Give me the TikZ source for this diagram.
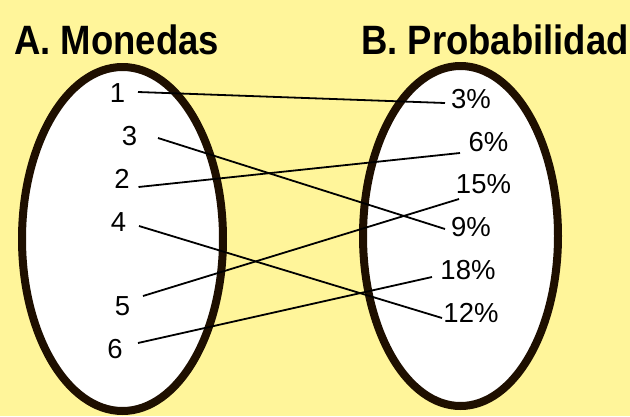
\documentclass[tikz,border=0pt]{standalone}
\usepackage{fontspec}
\usetikzlibrary{shapes.geometric}
\setmainfont{Liberation Sans}
\newfontfamily\titlefont[FakeStretch=0.89]{Liberation Sans Bold}
\definecolor{bgyellow}{HTML}{FFF59A}
\definecolor{rimbrown}{HTML}{1E0F00}
\tikzset{
  setoval/.style={draw=rimbrown, line width=8pt, fill=white, ellipse, inner sep=0pt},
  titlelbl/.style={inner sep=0pt, anchor=base west, font=\titlefont\fontsize{41}{41}\selectfont},
  itemlbl/.style={inner sep=0pt, font=\fontsize{27.5}{28}\selectfont},
  link/.style={draw=black, line width=1.8pt}
}
\begin{document}
\begin{tikzpicture}[x=1pt, y=-1pt]
\fill[bgyellow] (0,0) rectangle (630,416);
\useasboundingbox (0,0) rectangle (630,416);
% titles
\node[titlelbl] (ta) at (14,54) {A. Monedas};
\node[titlelbl] (tb) at (361,54) {B. Probabilidad};
% ovals
\node[setoval, minimum width=201pt, minimum height=344pt] (ea) at (122.5,239) {};
\node[setoval, minimum width=195pt, minimum height=340pt] (eb) at (460.5,236) {};
% left labels
\node[itemlbl] (n1) at (117.5,93) {1};
\node[itemlbl] (n3) at (129.5,136.5) {3};
\node[itemlbl] (n2) at (122,178.5) {2};
\node[itemlbl] (n4) at (118.5,222) {4};
\node[itemlbl] (n5) at (122.5,306) {5};
\node[itemlbl] (n6) at (115,349) {6};
% right labels
\node[itemlbl] (p3) at (471,99) {3\%};
\node[itemlbl] (p6) at (488.5,142.5) {6\%};
\node[itemlbl] (p15) at (483.5,184) {15\%};
\node[itemlbl] (p9) at (471,227) {9\%};
\node[itemlbl] (p18) at (468,270.5) {18\%};
\node[itemlbl] (p12) at (471,312.5) {12\%};
% connectors
\draw[link] ([shift={(20.5,-1)}]n1.center) -- ([shift={(-26,4)}]p3.center);
\draw[link] ([shift={(28.5,1.5)}]n3.center) -- ([shift={(-26,2)}]p9.center);
\draw[link] ([shift={(16.5,8.5)}]n2.center) -- ([shift={(-28.5,10.5)}]p6.center);
\draw[link] ([shift={(20.5,4)}]n4.center) -- ([shift={(-29,5.5)}]p12.center);
\draw[link] ([shift={(20.5,-10)}]n5.center) -- ([shift={(-24.5,15)}]p15.center);
\draw[link] ([shift={(23,-6)}]n6.center) -- ([shift={(-36,6.5)}]p18.center);
\end{tikzpicture}
\end{document}
